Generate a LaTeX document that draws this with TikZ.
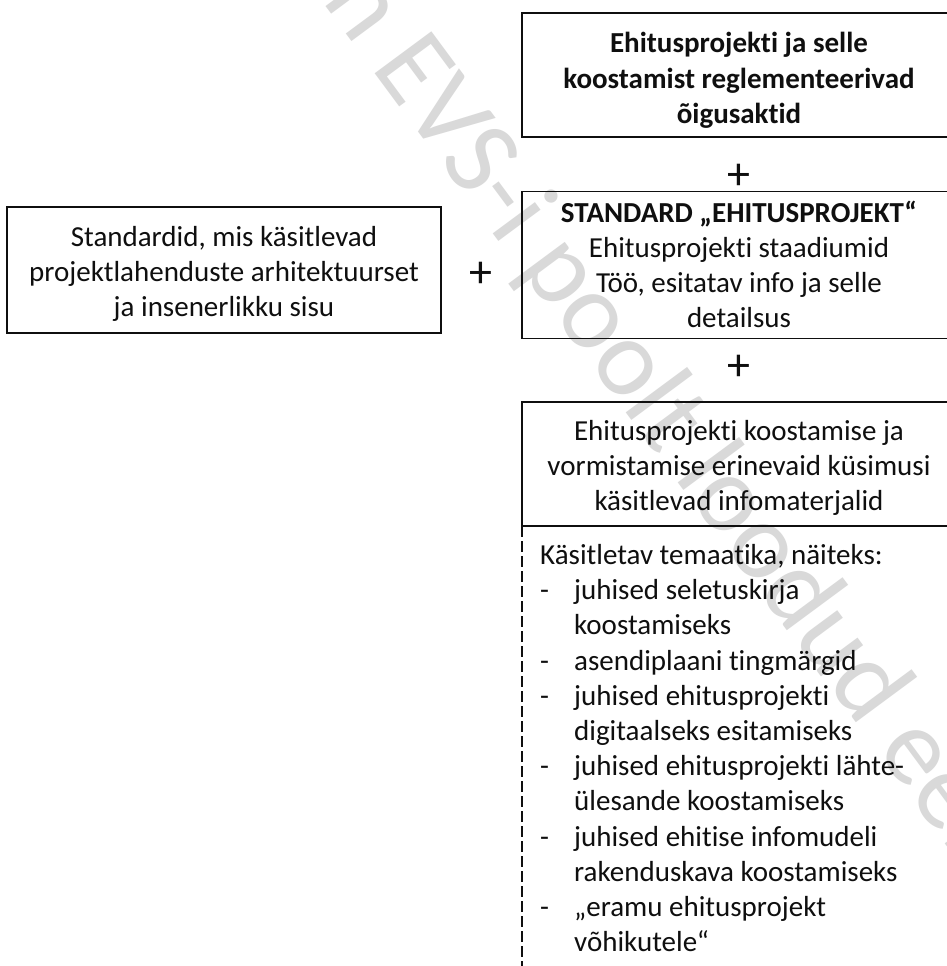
\documentclass[tikz,border=0pt]{standalone}
\usepackage{fontspec}
\setmainfont{Carlito}[RawFeature={-liga;-clig;-calt;-rlig;-dlig}]
\definecolor{wm}{RGB}{217,217,217}
\definecolor{ink}{RGB}{15,15,15}
\tikzset{
  box/.style={draw=ink, line width=1.5pt, minimum width=434pt, inner sep=0pt,
    align=center, font=\fontsize{29}{35.2}\selectfont, text=ink},
  boldbox/.style={box, font=\bfseries\fontsize{29}{35.2}\selectfont},
  listtext/.style={inner sep=0pt, align=left, font=\fontsize{29}{35.2}\selectfont, text=ink},
  plus/.style={font=\fontsize{46}{46}\selectfont, inner sep=0pt, text=ink},
  wmark/.style={text=wm, font=\fontsize{110}{110}\selectfont, rotate=-53.5, inner sep=0pt},
  dashframe/.style={draw=ink, line width=1.2pt, dash pattern=on 11pt off 4pt},
}
\newcommand{\dashitem}{\makebox[34pt][l]{-}}
\newcommand{\contitem}{\hspace*{34pt}}
% first-line strut raised so the text block sits lower by #1/2
\newcommand{\topstrut}[1]{\rule{0pt}{\dimexpr 24.6pt+#1\relax}}
\begin{document}
\begin{tikzpicture}[x=1pt,y=-1pt]
\path[use as bounding box] (0,0) rectangle (947,966);
\clip (0,0) rectangle (947,966);
\fill[white] (0,0) rectangle (947,966);
% watermark
\node[wmark] (wmtext) at (662,412) {n EVS-i poolt loodud eel};
% boxes
\node[boldbox, minimum height=124pt] (regs) at (739,75)
  {\topstrut{12pt}Ehitusprojekti ja selle\\ koostamist reglementeerivad\\ õigusaktid\strut};
\node[plus] (plusA) at (739,177) {+};
\node[box, minimum height=140pt] (std) at (739,265)
  {\topstrut{6pt}{\bfseries STANDARD „EHITUSPROJEKT“}\\ Ehitusprojekti staadiumid\\ Töö, esitatav info ja selle\\ detailsus\strut};
\node[box, minimum height=126pt] (stds) at (224,270)
  {\topstrut{9pt}Standardid, mis käsitlevad\\ projektlahenduste arhitektuurset\\ ja insenerlikku sisu\strut};
\node[plus] (plusB) at (481,275) {+};
\node[plus] (plusC) at (739,368) {+};
\draw[dashframe] (522,526) rectangle (956,1000);
\node[box, minimum height=124pt] (info) at (739,464)
  {\topstrut{9pt}Ehitusprojekti koostamise ja\\ vormistamise erinevaid küsimusi\\ käsitlevad infomaterjalid\strut};
\node[listtext, anchor=west] (topics) at (540,751)
  {\strut Käsitletav temaatika, näiteks:\\
   \dashitem juhised seletuskirja\\
   \contitem koostamiseks\\
   \dashitem asendiplaani tingmärgid\\
   \dashitem juhised ehitusprojekti\\
   \contitem digitaalseks esitamiseks\\
   \dashitem juhised ehitusprojekti lähte-\\
   \contitem ülesande koostamiseks\\
   \dashitem juhised ehitise infomudeli\\
   \contitem rakenduskava koostamiseks\\
   \dashitem „eramu ehitusprojekt\\
   \contitem võhikutele“\strut};
\end{tikzpicture}
\end{document}
